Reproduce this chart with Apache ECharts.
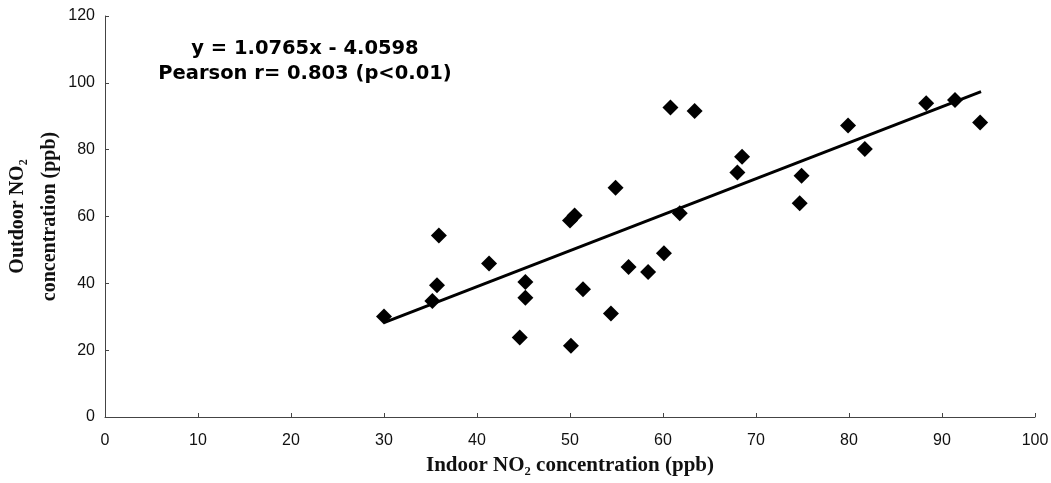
<!DOCTYPE html>
<html>
<head>
<meta charset="utf-8">
<script src="https://cdn.jsdelivr.net/npm/echarts@6/dist/echarts.min.js"></script>
<style>
  html, body { margin: 0; padding: 0; background: #fff; }
  #chart { width: 1051px; height: 483px; }
</style>
</head>
<body>
<div id="chart"></div>
<script>
// indoor vs outdoor NO2 (ppb)
const indoor = [30.0, 35.2, 35.7, 35.9, 41.3, 45.2, 45.2, 44.6, 50.0, 50.5,
  50.1, 51.4, 54.4, 54.9, 56.3, 58.4, 60.1, 60.8, 61.8, 63.4,
  68.0, 68.5, 74.7, 74.9, 79.9, 81.7, 88.3, 91.4, 94.1]
const outdoor = [30.1, 34.7, 39.4, 54.3, 45.9, 40.4, 35.7, 23.8, 58.8, 60.3,
  21.3, 38.2, 31.0, 68.6, 44.9, 43.4, 49.0, 92.6, 61.0, 91.6,
  73.2, 77.9, 64.0, 72.2, 87.2, 80.2, 93.9, 94.9, 88.1]

// regression line printed on the figure
const fitSlope = 1.0765
const fitIntercept = -4.0598
const fitRange = [30, 94.2]

const xTicks = { min: 0, max: 100, interval: 10 }
const yTicks = { min: 0, max: 120, interval: 20 }

const points = indoor.map((x, i) => [x, outdoor[i]])
const fitLine = fitRange.map(x => [x, fitSlope * x + fitIntercept])

const chart = echarts.init(document.getElementById('chart'))

const axisCommon = {
  type: 'value',
  splitLine: { show: false },
  axisLine: { show: true, lineStyle: { color: '#444', width: 1 } },
  axisTick: { show: true, inside: true, length: 4, lineStyle: { color: '#444' } },
  axisLabel: { color: '#111', fontFamily: 'Liberation Sans', fontSize: 16 },
  nameTextStyle: {
    color: '#111', fontFamily: 'Liberation Serif', fontWeight: 'bold', fontSize: 21
  }
}

chart.setOption({
  animation: false,
  backgroundColor: '#fff',
  title: {
    text: 'y = 1.0765x - 4.0598\nPearson r= 0.803 (p<0.01)',
    left: 300,
    top: 31,
    textAlign: 'center',
    textStyle: {
      color: '#000',
      fontFamily: 'DejaVu Sans',
      fontWeight: 'bold',
      fontSize: 19.5,
      lineHeight: 25
    }
  },
  grid: { left: 105, right: 16, top: 16, bottom: 66, containLabel: false, outerBoundsMode: 'none' },
  xAxis: Object.assign({}, axisCommon, {
    min: xTicks.min, max: xTicks.max, interval: xTicks.interval,
    name: 'Indoor NO\u2082 concentration (ppb)',
    nameLocation: 'middle',
    nameGap: 38,
    axisLabel: Object.assign({}, axisCommon.axisLabel, { margin: 16 })
  }),
  yAxis: Object.assign({}, axisCommon, {
    min: yTicks.min, max: yTicks.max, interval: yTicks.interval,
    name: 'Outdoor NO\u2082\nconcentration (ppb)',
    nameLocation: 'middle',
    nameGap: 39,
    nameMoveOverlap: false,
    nameTextStyle: Object.assign({}, axisCommon.nameTextStyle, { fontSize: 20, lineHeight: 32 }),
    axisLabel: Object.assign({}, axisCommon.axisLabel, { margin: 10 })
  }),
  series: [
    {
      type: 'line',
      data: fitLine,
      symbol: 'none',
      lineStyle: { color: '#000', width: 3 },
      z: 2
    },
    {
      type: 'scatter',
      data: points,
      symbol: 'diamond',
      symbolSize: 16,
      itemStyle: { color: '#000', opacity: 1 },
      z: 3
    }
  ]
})
</script>
</body>
</html>
